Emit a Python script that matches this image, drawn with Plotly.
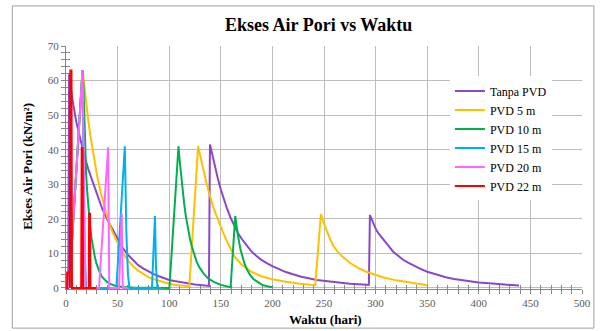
import plotly.graph_objects as go

# ---------------- data ----------------
series_names = ["Tanpa PVD", "PVD 5 m", "PVD 10 m", "PVD 15 m", "PVD 20 m", "PVD 22 m"]

tanpa_t = [0, 2.2, 3, 6, 10, 14, 18, 22, 26, 30, 35, 40, 45, 50, 55, 60, 65, 70, 75, 80,
           85, 90, 95, 100, 105, 110, 115, 120, 125, 130, 138.5,
           139.5, 141, 143, 145, 147.5, 150, 153, 156, 159.5, 163, 166.5, 170, 174.5, 179,
           184, 189, 194.5, 200, 213, 227, 243, 259, 275, 292, 293.5,
           294.5, 296.5, 298.5, 300.6, 303, 306, 310, 313.5, 317, 321, 326, 331, 336, 343,
           350, 359, 368, 376, 384, 392, 400, 416, 439]
tanpa_v = [0, 0, 61.8, 55, 48, 42.5, 38, 34, 30.5, 27.2, 23, 19.8, 17, 14, 11.5, 9.6, 8, 6.6,
           5.6, 4.7, 4, 3.4, 2.8, 2.3, 2, 1.7, 1.4, 1.2, 1, 0.85, 0.6,
           41.5, 39.4, 36.6, 34.3, 31.2, 28.5, 25.6, 23, 20.3, 18, 16, 14.3, 12.4, 10.8,
           9.4, 8.2, 7.2, 6.3, 4.6, 3.3, 2.3, 1.7, 1.2, 0.9, 0.9,
           21.1, 19.6, 18.2, 16.8, 15.7, 14.5, 13.2, 11.8, 10.5, 9.4, 8.3, 7.4, 6.6, 5.6,
           4.7, 3.8, 3.1, 2.6, 2.2, 1.9, 1.6, 1.2, 0.7]

pvd5_t = [3, 16, 17, 18, 19, 20, 22, 24, 27, 30, 34, 37.6, 41, 45, 49, 53.6, 60, 65, 70, 75,
          80, 85, 90, 95, 100, 105, 111, 119.5,
          128, 130, 132, 134, 136, 138, 140, 142.5, 145, 147.5, 150, 153, 156, 159.5, 163,
          170, 179, 189, 200, 213, 227, 241.5,
          247, 249, 251, 253, 256, 259, 263, 267, 275, 283, 291, 300, 307, 320, 336, 350]
pvd5_v = [0, 63, 60.5, 57.5, 54.7, 52, 47.5, 43.4, 37.5, 32.7, 27.2, 22.9, 19.5, 16.2, 13.5,
          10.8, 8.0, 6.3, 5.0, 4.0, 3.1, 2.5, 2.0, 1.6, 1.2, 0.95, 0.7, 0.45,
          41, 38.2, 35.5, 33, 30.5, 28.2, 26, 23.6, 21.5, 19.5, 17.7, 15.5, 13.5, 11.2, 9.2,
          6.8, 4.8, 3.4, 2.5, 1.8, 1.2, 0.8,
          21.4, 19.5, 17.7, 16.2, 14.1, 12.2, 10.6, 9.3, 7.3, 5.8, 4.7, 3.8, 3.1, 2.2, 1.4, 0.8]

pvd10_t = [3, 16, 17, 17.7, 18.3, 19.5, 20.5, 21.5, 23, 24.7, 26.3, 27.9, 29.5, 31.1, 33, 35,
           37.5, 40, 43.5, 47, 55, 65, 100.2,
           109, 110, 111, 112, 113, 114.5, 116, 117.8, 120, 122, 124.3, 126.5, 129, 131.5,
           134, 138, 143.6, 150, 155, 159.5,
           164, 165.5, 167, 169.2, 171, 173, 175.6, 178.5, 181.5, 185.3, 190, 195, 200]
pvd10_v = [0, 63, 58, 50, 42, 33, 28, 24, 19, 14.5, 11.4, 9, 7.1, 5.6, 4.3, 3.2,
           2.3, 1.7, 1.1, 0.7, 0.3, 0.1, 0,
           41, 37.3, 33.9, 30.9, 28.3, 24.4, 21, 17.7, 14.4, 11.9, 9.5, 7.7, 6.1, 4.9,
           3.9, 2.7, 1.7, 0.9, 0.5, 0.2,
           20.8, 17.4, 14.5, 11, 8.9, 7, 5.2, 3.7, 2.6, 1.8, 0.9, 0.5, 0.2]

pvd15_t = [3, 16, 17, 18, 19.5, 48.8, 57, 58.5, 60, 61.5, 83.3, 86.2, 87.2, 88.6, 92]
pvd15_v = [0, 63, 35, 12, 0, 0, 41, 16, 4, 0, 0, 20.8, 6, 0, 0]

pvd20_t = [3, 16, 18.8, 32, 40.8, 41.9, 51.4, 54, 55, 60]
pvd20_v = [0, 63, 0, 0, 40.7, 0, 0, 21.6, 0, 0]

pvd22_t = [0, 1, 1.1, 3.5, 3.7, 4.2, 5.3, 5.8, 14.7, 15.2, 16.1, 16.6, 22.0, 22.4, 23.3, 23.7, 29.5]
pvd22_v = [0, 0, 4.5, 4.5, 0, 62.9, 62.9, 0, 0, 40.5, 40.5, 0, 0, 21.5, 21.5, 0, 0]

x_ticks = [0, 50, 100, 150, 200, 250, 300, 350, 400, 450, 500]
y_ticks = [0, 10, 20, 30, 40, 50, 60, 70]

colors = ["#8A47C9", "#FFC000", "#00B050", "#00B0F0", "#FF66FF", "#FF0000"]
all_t = [tanpa_t, pvd5_t, pvd10_t, pvd15_t, pvd20_t, pvd22_t]
all_v = [tanpa_v, pvd5_v, pvd10_v, pvd15_v, pvd20_v, pvd22_v]

SERIF = "Liberation Serif"
AX = "#868686"
GRID = "#BDBDBD"
Y_RANGE = [-0.3, 70]

fig = go.Figure()
for name, t, v, c in zip(series_names, all_t, all_v, colors):
    fig.add_trace(go.Scatter(x=t, y=v, mode="lines", name=name,
                             line=dict(color=c, width=2), hoverinfo="skip"))
# helper trace so the overlay axes (inner half of the crossing ticks) are drawn
fig.add_trace(go.Scatter(x=[None], y=[None], xaxis="x2", yaxis="y2",
                         showlegend=False, hoverinfo="skip"))

tickfont = dict(family=SERIF, size=11, color="#595959")

fig.update_layout(
    width=603, height=331,
    margin=dict(l=66, r=18, t=46, b=42),
    paper_bgcolor="white", plot_bgcolor="white",
    font=dict(family=SERIF),
    showlegend=True,
    legend=dict(x=0.744, y=0.875, xanchor="left", yanchor="top",
                bgcolor="white", borderwidth=0, itemwidth=30,
                font=dict(family=SERIF, size=12, color="black"), tracegroupgap=0),
    xaxis=dict(range=[0, 500], tickvals=x_ticks, ticktext=[str(v) for v in x_ticks],
               showgrid=True, gridcolor=GRID, gridwidth=1.3,
               showline=True, linecolor=AX, linewidth=1, zeroline=False,
               ticks="outside", ticklen=4, tickcolor=AX, tickfont=tickfont,
               minor=dict(dtick=10, tick0=0, ticks="outside", ticklen=4, tickcolor=AX, showgrid=False),
               layer="below traces"),
    yaxis=dict(range=Y_RANGE, tickvals=y_ticks, ticktext=[str(v) for v in y_ticks],
               showgrid=True, gridcolor=GRID, gridwidth=1.3,
               showline=True, linecolor=AX, linewidth=1, zeroline=False,
               ticks="outside", ticklen=4, tickcolor=AX, tickfont=tickfont,
               minor=dict(dtick=2, tick0=0, ticks="outside", ticklen=4, tickcolor=AX, showgrid=False),
               layer="below traces"),
    xaxis2=dict(range=[0, 500], overlaying="x", anchor="y", side="bottom",
                tickvals=x_ticks, showticklabels=False, showgrid=False, showline=False,
                zeroline=False, ticks="inside", ticklen=4, tickcolor=AX,
                minor=dict(dtick=10, tick0=0, ticks="inside", ticklen=4, tickcolor=AX, showgrid=False),
                layer="below traces"),
    yaxis2=dict(range=Y_RANGE, overlaying="y", anchor="x", side="left",
                tickvals=y_ticks, showticklabels=False, showgrid=False, showline=False,
                zeroline=False, ticks="inside", ticklen=4, tickcolor=AX,
                minor=dict(dtick=2, tick0=0, ticks="inside", ticklen=4, tickcolor=AX, showgrid=False),
                layer="below traces"),
    shapes=[dict(type="rect", xref="paper", yref="paper",
                 x0=-0.104, x1=1.0231, y0=-0.161, y1=1.165,
                 line=dict(color="#A0A0A0", width=1), fillcolor="rgba(0,0,0,0)", layer="below")],
    annotations=[
        dict(text="<b>Ekses Air Pori vs Waktu</b>", xref="paper", yref="paper",
             x=0.489, y=1.085, xanchor="center", yanchor="middle", showarrow=False,
             font=dict(family=SERIF, size=18, color="black")),
        dict(text="<b>Waktu (hari)</b>", xref="paper", yref="paper",
             x=0.502, y=-0.124, xanchor="center", yanchor="middle", showarrow=False,
             font=dict(family=SERIF, size=13, color="black")),
        dict(text="<b>Ekses Air Pori (kN/m²)</b>", xref="paper", yref="paper",
             x=-0.075, y=0.504, xanchor="center", yanchor="middle", showarrow=False,
             textangle=-90, font=dict(family=SERIF, size=13, color="black")),
    ],
)

fig.write_html("out.html")
